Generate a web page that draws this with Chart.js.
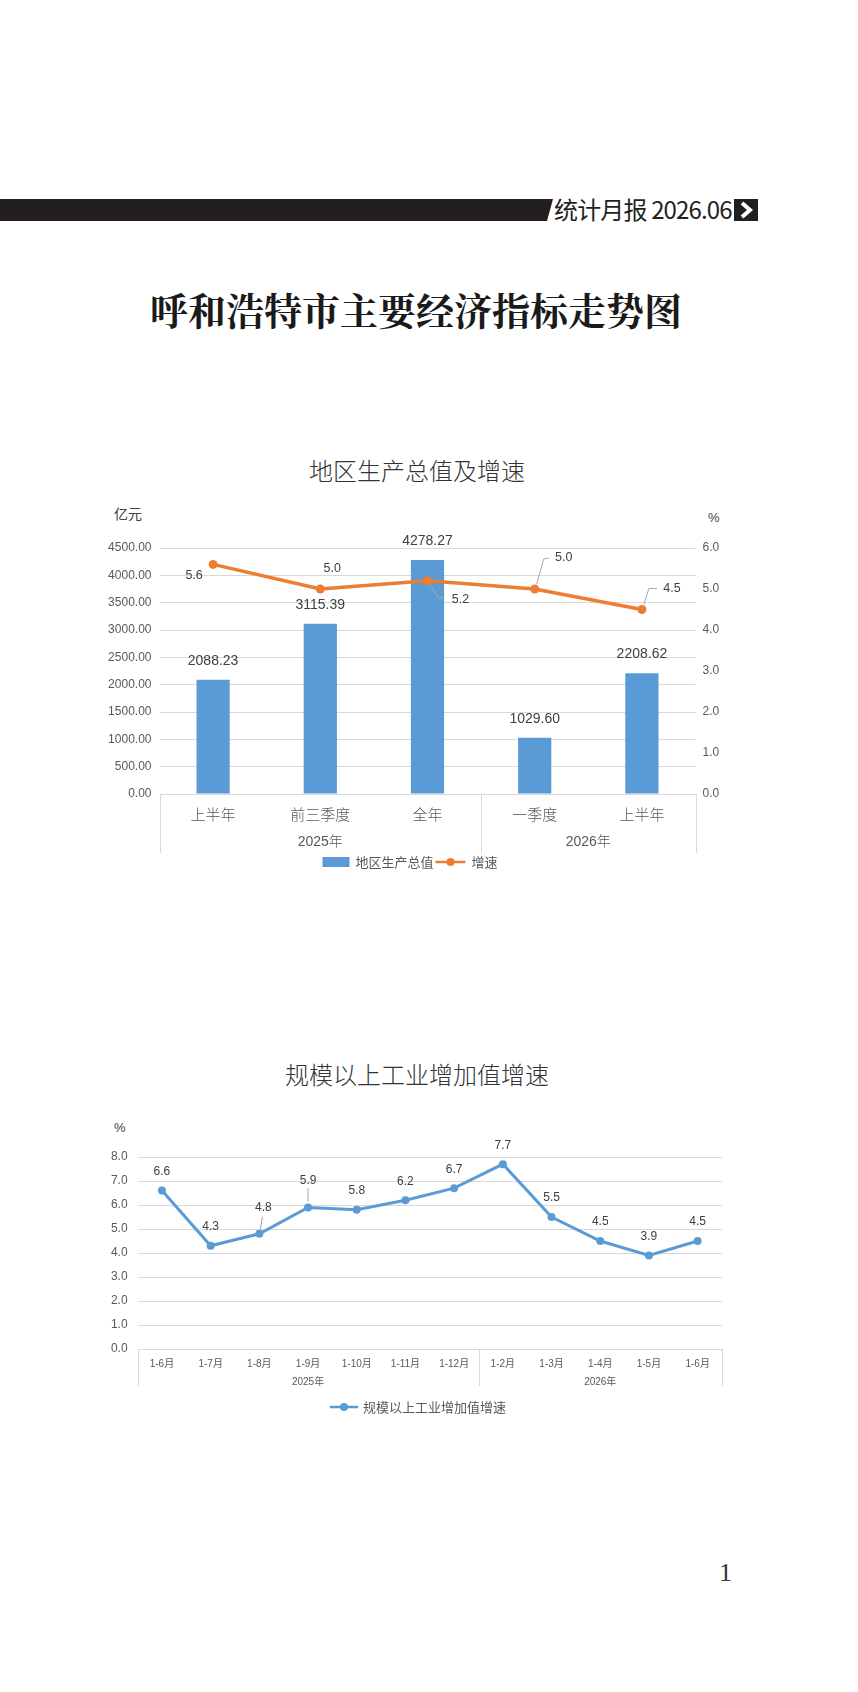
<!DOCTYPE html>
<html>
<head>
<meta charset="utf-8">
<script src="https://cdn.jsdelivr.net/npm/chart.js@4.4.1/dist/chart.umd.min.js"></script>
<style>
html,body{margin:0;padding:0;background:#fff;}
body{width:858px;height:1692px;position:relative;overflow:hidden;font-family:'Noto Sans CJK SC',sans-serif;color:#222;}
.abs{position:absolute;}
#bar{left:0;top:199px;width:553px;height:22px;background:#231f20;clip-path:polygon(0 0,100% 0,calc(100% - 6px) 100%,0 100%);}
#hdr{left:554px;top:193px;font-size:24px;line-height:32px;color:#231f20;white-space:nowrap;letter-spacing:-0.85px;}
#arrow{left:734px;top:199px;width:24px;height:22px;background:#231f20;}
#title{left:0;width:832px;top:286px;text-align:center;font-size:38px;font-weight:700;line-height:46px;color:#1a1a1a;font-family:'Noto Serif CJK SC','Noto Sans CJK SC',serif;}
.ct{left:0;width:834px;text-align:center;font-size:24px;line-height:30px;color:#333;font-weight:300;}
.unit{font-size:14px;line-height:18px;color:#404040;font-family:'Liberation Sans','Noto Sans CJK SC',sans-serif;}
#page{left:719px;top:1557px;font-size:26px;line-height:32px;color:#333;font-family:'Liberation Serif','DejaVu Serif',serif;}
canvas{position:absolute;}
</style>
</head>
<body>
<div id="bar" class="abs"></div>
<div id="hdr" class="abs">统计月报 2026.06</div>
<div id="arrow" class="abs"><svg width="24" height="22" viewBox="0 0 24 22"><polyline points="8,4 16,11 8,18" fill="none" stroke="#fff" stroke-width="4"/></svg></div>
<div id="title" class="abs">呼和浩特市主要经济指标走势图</div>

<div class="abs ct" style="top:455px;">地区生产总值及增速</div>
<div class="abs unit" style="left:114px;top:505px;">亿元</div>
<div class="abs unit" style="left:708px;top:509px;font-size:13px;">%</div>
<canvas id="c1" width="680" height="380" style="left:90px;top:500px;"></canvas>

<div class="abs ct" style="top:1059px;">规模以上工业增加值增速</div>
<div class="abs unit" style="left:114px;top:1119px;font-size:13px;">%</div>
<canvas id="c2" width="700" height="320" style="left:60px;top:1110px;"></canvas>

<div id="page" class="abs">1</div>

<script>
// ---------- data ----------
const gdpCategories = ['上半年','前三季度','全年','一季度','上半年'];
const gdpGroups = ['2025年','2026年'];
const gdpGroupSizes = [3,2];
const gdpValues = [2088.23, 3115.39, 4278.27, 1029.60, 2208.62];
const gdpGrowth = [5.6, 5.0, 5.2, 5.0, 4.5];
const gdpAxisTicks = [0,500,1000,1500,2000,2500,3000,3500,4000,4500];
const growthAxisTicks = [0,1,2,3,4,5,6];

const indMonths = ['1-6月','1-7月','1-8月','1-9月','1-10月','1-11月','1-12月','1-2月','1-3月','1-4月','1-5月','1-6月'];
const indGroups = ['2025年','2026年'];
const indGroupSizes = [7,5];
const indGrowth = [6.6, 4.3, 4.8, 5.9, 5.8, 6.2, 6.7, 7.7, 5.5, 4.5, 3.9, 4.5];
const indAxisTicks = [0,1,2,3,4,5,6,7,8];

// ---------- styles ----------
const BLUE = '#5B9BD5', ORANGE = '#ED7D31', GRID = '#D9D9D9', TICK = '#595959', LABEL = '#404040';
const FONT = "'Liberation Sans','Noto Sans CJK SC',sans-serif";
Chart.defaults.font.family = FONT;
Chart.defaults.color = TICK;

// ---------- plugins ----------
const groupAxisPlugin = {
  id: 'groupAxis',
  afterDraw(chart, args, o) {
    if (!o || !o.sizes) return;
    const x = chart.scales.x, a = chart.chartArea, ctx = chart.ctx;
    const edge = b => x.getPixelForValue(b - 0.5);
    const bounds = [0]; let s = 0;
    o.sizes.forEach(n => { s += n; bounds.push(s); });
    ctx.save();
    ctx.strokeStyle = o.lineColor; ctx.lineWidth = 1;
    bounds.forEach(b => {
      const px = Math.round(edge(b)) + 0.5;
      ctx.beginPath(); ctx.moveTo(px, a.bottom); ctx.lineTo(px, a.bottom + o.lineLength); ctx.stroke();
    });
    ctx.fillStyle = o.color; ctx.font = o.font; ctx.textAlign = 'center'; ctx.textBaseline = 'middle';
    o.labels.forEach((lab, i) => {
      const c = (edge(bounds[i]) + edge(bounds[i + 1])) / 2;
      ctx.fillText(lab, c, a.bottom + o.labelOffset);
    });
    ctx.restore();
  }
};

const valueLabelPlugin = {
  id: 'valueLabels',
  afterDatasetsDraw(chart, args, o) {
    if (!o || !o.sets) return;
    const ctx = chart.ctx;
    chart.data.datasets.forEach((ds, di) => {
      const cfg = o.sets[di]; if (!cfg) return;
      const meta = chart.getDatasetMeta(di);
      ctx.save();
      ctx.font = cfg.font; ctx.fillStyle = cfg.color; ctx.textAlign = 'center'; ctx.textBaseline = 'middle';
      meta.data.forEach((el, i) => {
        const off = (cfg.offsets && cfg.offsets[i]) || cfg.offset;
        const ld = cfg.leaders && cfg.leaders[i];
        if (ld) {
          ctx.strokeStyle = cfg.leaderColor; ctx.lineWidth = 1;
          ctx.beginPath();
          ld.forEach((p, k) => { if (k) ctx.lineTo(el.x + p[0], el.y + p[1]); else ctx.moveTo(el.x + p[0], el.y + p[1]); });
          ctx.stroke();
        }
        ctx.fillText(Number(ds.data[i]).toFixed(cfg.decimals), el.x + off[0], el.y + off[1]);
      });
      ctx.restore();
    });
  }
};

const legendPlugin = {
  id: 'customLegend',
  afterDraw(chart, args, o) {
    if (!o || !o.centerX) return;
    const ctx = chart.ctx, a = chart.chartArea;
    const items = chart.data.datasets.map(ds => {
      const t = ds.type || chart.config.type;
      return { text: ds.label, type: t, color: t === 'bar' ? ds.backgroundColor : ds.borderColor };
    });
    ctx.save();
    ctx.font = o.font;
    const widths = items.map(it => (it.type === 'bar' ? o.rectW : o.lineW) + o.gap + ctx.measureText(it.text).width);
    const total = widths.reduce((p, c) => p + c, 0) + o.itemGap * (items.length - 1);
    let x = o.centerX - total / 2;
    const y = a.bottom + o.offsetY;
    ctx.textBaseline = 'middle'; ctx.textAlign = 'left';
    items.forEach(it => {
      if (it.type === 'bar') {
        ctx.fillStyle = it.color; ctx.fillRect(x, y - o.rectH / 2, o.rectW, o.rectH);
        x += o.rectW;
      } else {
        ctx.strokeStyle = it.color; ctx.lineWidth = o.lineWidth;
        ctx.beginPath(); ctx.moveTo(x, y); ctx.lineTo(x + o.lineW, y); ctx.stroke();
        ctx.fillStyle = it.color; ctx.beginPath(); ctx.arc(x + o.lineW / 2, y, o.dotR, 0, Math.PI * 2); ctx.fill();
        x += o.lineW;
      }
      x += o.gap;
      ctx.fillStyle = o.color; ctx.fillText(it.text, x, y + 0.5);
      x += ctx.measureText(it.text).width + o.itemGap;
    });
    ctx.restore();
  }
};

Chart.register(groupAxisPlugin, valueLabelPlugin, legendPlugin);

// ---------- chart 1 ----------
new Chart(document.getElementById('c1'), {
  type: 'bar',
  data: {
    labels: gdpCategories,
    datasets: [
      { type: 'bar', label: '地区生产总值', data: gdpValues, yAxisID: 'y', order: 1,
        backgroundColor: BLUE, barPercentage: 0.31, categoryPercentage: 1 },
      { type: 'line', label: '增速', data: gdpGrowth, yAxisID: 'y1', order: 0,
        borderColor: ORANGE, backgroundColor: ORANGE, borderWidth: 3.5,
        pointRadius: 4.5, pointBackgroundColor: ORANGE, pointBorderWidth: 0, tension: 0 }
    ]
  },
  options: {
    responsive: false, animation: false,
    layout: { padding: { top: 48, left: 0, right: 40, bottom: 26 } },
    scales: {
      x: {
        grid: { display: false }, border: { display: false },
        ticks: { autoSkip: false, maxRotation: 0, padding: 3, color: TICK,
                 font: { size: 15, family: "'Noto Sans CJK SC',sans-serif", weight: 300 } },
        afterFit: s => { s.height = 60; }
      },
      y: {
        position: 'left', min: 0, max: 4500,
        afterBuildTicks: s => { s.ticks = gdpAxisTicks.map(v => ({ value: v })); },
        afterFit: s => { s.width = 69.5; },
        grid: { color: GRID, drawTicks: false }, border: { display: false },
        ticks: { padding: 8, color: TICK, font: { size: 12 }, callback: v => Number(v).toFixed(2) }
      },
      y1: {
        position: 'right', min: 0, max: 6,
        afterBuildTicks: s => { s.ticks = growthAxisTicks.map(v => ({ value: v })); },
        afterFit: s => { s.width = 34.5; },
        grid: { display: false, drawTicks: false }, border: { display: false },
        ticks: { padding: 7, color: TICK, font: { size: 12 }, callback: v => Number(v).toFixed(1) }
      }
    },
    plugins: {
      legend: { display: false },
      tooltip: { enabled: false },
      groupAxis: { sizes: gdpGroupSizes, labels: gdpGroups, lineColor: GRID, lineLength: 59,
                   labelOffset: 48, color: TICK, font: "300 14px 'Liberation Sans','Noto Sans CJK SC',sans-serif" },
      valueLabels: {
        sets: [
          { font: "14px " + FONT, color: LABEL, decimals: 2, offset: [0, -19] },
          { font: "12.5px " + FONT, color: LABEL, decimals: 1, leaderColor: '#A6A6A6', offset: [0, -20],
            offsets: [[-19, 11], [12, -20], [33, 19], [29, -31], [30, -21]],
            leaders: { 2: [[3, 4], [11, 17], [16, 17]], 3: [[2, -5], [9, -30], [14, -31]], 4: [[2, -5], [7, -21], [15, -21]] } }
        ]
      },
      customLegend: { centerX: 320, offsetY: 68, font: "13px 'Noto Sans CJK SC',sans-serif", color: TICK,
                      rectW: 27, rectH: 10, lineW: 30, lineWidth: 2.5, dotR: 4, gap: 6, itemGap: 2 }
    }
  }
});

// ---------- chart 2 ----------
new Chart(document.getElementById('c2'), {
  type: 'line',
  data: {
    labels: indMonths,
    datasets: [
      { label: '规模以上工业增加值增速', data: indGrowth, borderColor: BLUE, backgroundColor: BLUE,
        borderWidth: 3, pointRadius: 4, pointBackgroundColor: BLUE, pointBorderWidth: 0, tension: 0 }
    ]
  },
  options: {
    responsive: false, animation: false,
    layout: { padding: { top: 47, left: 0, right: 38, bottom: 34 } },
    scales: {
      x: {
        offset: true,
        grid: { display: false }, border: { display: false },
        ticks: { autoSkip: false, maxRotation: 0, padding: 1, color: TICK,
                 font: { size: 10, family: "'Liberation Sans','Noto Sans CJK SC',sans-serif" } },
        afterFit: s => { s.height = 47; }
      },
      y: {
        min: 0, max: 8,
        afterBuildTicks: s => { s.ticks = indAxisTicks.map(v => ({ value: v })); },
        afterFit: s => { s.width = 77.6; },
        grid: { color: GRID, drawTicks: false }, border: { display: false },
        ticks: { padding: 10, color: TICK, font: { size: 12 }, callback: v => Number(v).toFixed(1) }
      }
    },
    plugins: {
      legend: { display: false },
      tooltip: { enabled: false },
      groupAxis: { sizes: indGroupSizes, labels: indGroups, lineColor: GRID, lineLength: 37,
                   labelOffset: 33, color: TICK, font: "10px 'Liberation Sans','Noto Sans CJK SC',sans-serif" },
      valueLabels: {
        sets: [
          { font: "12px " + FONT, color: LABEL, decimals: 1, leaderColor: '#A6A6A6', offset: [0, -19],
            offsets: { 2: [4, -26], 3: [0, -27] },
            leaders: { 2: [[1, -4], [3, -17]], 3: [[0, -6], [0, -19]] } }
        ]
      },
      customLegend: { centerX: 358, offsetY: 58, font: "13px 'Noto Sans CJK SC',sans-serif", color: TICK,
                      rectW: 27, rectH: 10, lineW: 28, lineWidth: 2.5, dotR: 4, gap: 5, itemGap: 2 }
    }
  }
});
</script>
</body>
</html>
